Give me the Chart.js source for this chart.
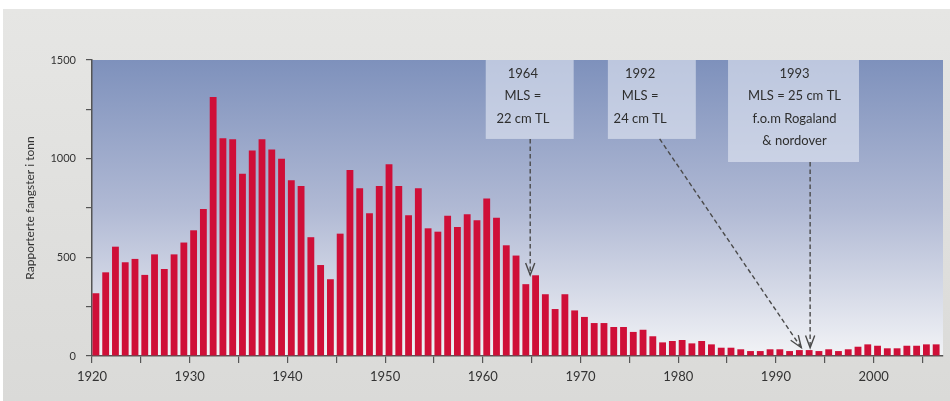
<!DOCTYPE html>
<html lang="no">
<head>
  <meta charset="UTF-8" />
  <title>Rapporterte fangster i tonn</title>
  <script src="https://cdn.jsdelivr.net/npm/chart.js"></script>
  <style>
    html, body {
      margin: 0;
      padding: 0;
      background: #fff;
    }
    #wrap {
      width: 950px;
      height: 401px;
      position: relative;
    }
  </style>
</head>
<body>
  <div id="wrap"><canvas id="chart"></canvas></div>

  <script>
    // Years (categories)
    const years = [
      1920, 1921, 1922, 1923, 1924, 1925, 1926, 1927, 1928, 1929,
      1930, 1931, 1932, 1933, 1934, 1935, 1936, 1937, 1938, 1939,
      1940, 1941, 1942, 1943, 1944, 1945, 1946, 1947, 1948, 1949,
      1950, 1951, 1952, 1953, 1954, 1955, 1956, 1957, 1958, 1959,
      1960, 1961, 1962, 1963, 1964, 1965, 1966, 1967, 1968, 1969,
      1970, 1971, 1972, 1973, 1974, 1975, 1976, 1977, 1978, 1979,
      1980, 1981, 1982, 1983, 1984, 1985, 1986, 1987, 1988, 1989,
      1990, 1991, 1992, 1993, 1994, 1995, 1996, 1997, 1998, 1999,
      2000, 2001, 2002, 2003, 2004, 2005, 2006
    ];

    // Reported catches (tonnes)
    const catches = [
      318, 424, 554, 475, 492, 411, 515, 441, 515, 575,
      637, 745, 1312, 1104, 1099, 924, 1041, 1099, 1046, 1000,
      891, 862, 602, 461, 389, 620, 943, 850, 723, 862,
      972, 862, 713, 850, 647, 630, 711, 654, 718, 688,
      798, 700, 561, 509, 364, 409, 313, 238, 313, 231,
      198, 167, 167, 147, 147, 122, 133, 100, 69, 76,
      81, 64, 76, 59, 42, 42, 34, 25, 25, 34,
      34, 25, 30, 30, 25, 34, 25, 34, 47, 59,
      52, 39, 39, 52, 52, 59, 59
    ];

    const yTicks = [0, 500, 1000, 1500];
    const xTicks = [1920, 1930, 1940, 1950, 1960, 1970, 1980, 1990, 2000];

    // Annotation texts
    const note1964 = ["1964", "MLS =", "22 cm TL"];
    const note1992 = ["1992", "MLS =", "24 cm TL"];
    const note1993 = ["1993", "MLS = 25 cm TL", "f.o.m Rogaland", "& nordover"];

    const yTitle = "Rapporterte fangster i tonn";

    // Where the boxes and arrows sit, in axis units (year, tonnes)
    const notes = [
      { lines: note1964, x0: 1960.3, x1: 1969.3, yBottom: 1100, textX: 1964.1,
        from: [1964.85, 1100], to: [1964.85, 410] },
      { lines: note1992, x0: 1972.8, x1: 1981.8, yBottom: 1100, textX: 1976.1,
        from: [1978.1, 1100], to: [1992.6, 42] },
      { lines: note1993, x0: 1985.1, x1: 1998.5, yBottom: 983, textX: 1991.9,
        from: [1993.5, 983], to: [1993.5, 42] }
    ];

    const FONT = "Lato, 'Open Sans', sans-serif";
    const barOffset = 0.4;

    // background: grey page + blue gradient plot area
    const backgroundPlugin = {
      id: "background",
      beforeDraw(chart) {
        const { ctx, width, height, chartArea } = chart;
        ctx.save();
        ctx.fillStyle = "#ffffff";
        ctx.fillRect(0, 0, width, height);
        const g = ctx.createLinearGradient(0, 9, 0, height);
        g.addColorStop(0, "#e6e6e4");
        g.addColorStop(1, "#dadad8");
        ctx.fillStyle = g;
        ctx.fillRect(3, 9, width - 3, height - 9);

        const pg = ctx.createLinearGradient(0, chartArea.top, 0, chartArea.bottom);
        pg.addColorStop(0, "#7e91bc");
        pg.addColorStop(0.5, "#b0b9d4");
        pg.addColorStop(1, "#f2f3f6");
        ctx.fillStyle = pg;
        ctx.fillRect(chartArea.left, chartArea.top,
          chartArea.right - chartArea.left, chartArea.bottom - chartArea.top);
        ctx.restore();
      }
    };

    function drawArrowHead(ctx, x0, y0, x1, y1) {
      const ang = Math.atan2(y1 - y0, x1 - x0);
      const len = 13, spread = 0.36;
      ctx.beginPath();
      ctx.moveTo(x1 - len * Math.cos(ang - spread), y1 - len * Math.sin(ang - spread));
      ctx.lineTo(x1, y1);
      ctx.lineTo(x1 - len * Math.cos(ang + spread), y1 - len * Math.sin(ang + spread));
      ctx.stroke();
    }

    const notesPlugin = {
      id: "notes",
      afterDatasetsDraw(chart) {
        const { ctx, chartArea } = chart;
        const xs = chart.scales.x, ys = chart.scales.y;
        ctx.save();
        notes.forEach(n => {
          const left = xs.getPixelForValue(n.x0);
          const right = xs.getPixelForValue(n.x1);
          const bottom = ys.getPixelForValue(n.yBottom);
          ctx.fillStyle = "rgba(228, 232, 244, 0.62)";
          ctx.fillRect(left, chartArea.top, right - left, bottom - chartArea.top);

          ctx.fillStyle = "#2e2e2e";
          ctx.font = "13px " + FONT;
          ctx.textAlign = "center";
          ctx.textBaseline = "middle";
          const tx = xs.getPixelForValue(n.textX);
          n.lines.forEach((line, i) => {
            ctx.fillText(line, tx, chartArea.top + 14 + i * 22.3);
          });

          const ax0 = xs.getPixelForValue(n.from[0]);
          const ay0 = ys.getPixelForValue(n.from[1]);
          const ax1 = xs.getPixelForValue(n.to[0]);
          const ay1 = ys.getPixelForValue(n.to[1]);
          ctx.strokeStyle = "#4a4a4a";
          ctx.lineWidth = 1.4;
          ctx.setLineDash([4.5, 3]);
          ctx.beginPath();
          ctx.moveTo(ax0, ay0);
          ctx.lineTo(ax1, ay1);
          ctx.stroke();
          ctx.setLineDash([]);
          drawArrowHead(ctx, ax0, ay0, ax1, ay1);
        });
        ctx.restore();
      }
    };

    new Chart(document.getElementById("chart"), {
      type: "bar",
      data: {
        datasets: [{
          data: years.map((y, i) => ({ x: y + barOffset, y: catches[i] })),
          backgroundColor: "#cf0f38",
          borderWidth: 0,
          barPercentage: 0.7,
          categoryPercentage: 1
        }]
      },
      options: {
        responsive: true,
        maintainAspectRatio: false,
        animation: false,
        layout: { padding: { top: 60, right: 7, left: 0, bottom: 0 } },
        plugins: {
          legend: { display: false },
          tooltip: { enabled: false }
        },
        scales: {
          x: {
            type: "linear",
            min: 1920,
            max: 2007.1,
            offset: false,
            afterFit: s => { s.height = 45; },
            grid: {
              offset: false,
              drawOnChartArea: false,
              drawTicks: true,
              tickLength: 7,
              color: "#555",
              lineWidth: 1.2
            },
            border: { display: true, color: "#555", width: 1.5 },
            ticks: {
              stepSize: 5,
              includeBounds: false,
              autoSkip: false,
              maxRotation: 0,
              padding: 6,
              color: "#333",
              font: { family: FONT, size: 13 },
              callback: v => xTicks.includes(v) ? String(v) : ""
            }
          },
          y: {
            min: 0,
            max: 1500,
            afterFit: s => { s.width = 92; },
            grid: {
              drawOnChartArea: false,
              drawTicks: true,
              tickLength: 6,
              color: "#555",
              lineWidth: 1.2
            },
            border: { display: true, color: "#555", width: 1.5 },
            ticks: {
              stepSize: 250,
              padding: 10,
              color: "#333",
              font: { family: FONT, size: 11 },
              callback: v => yTicks.includes(v) ? String(v) : ""
            },
            title: {
              display: true,
              text: yTitle,
              color: "#333",
              font: { family: FONT, size: 12 },
              padding: { top: 23, bottom: 0 }
            }
          }
        }
      },
      plugins: [backgroundPlugin, notesPlugin]
    });
  </script>
</body>
</html>
